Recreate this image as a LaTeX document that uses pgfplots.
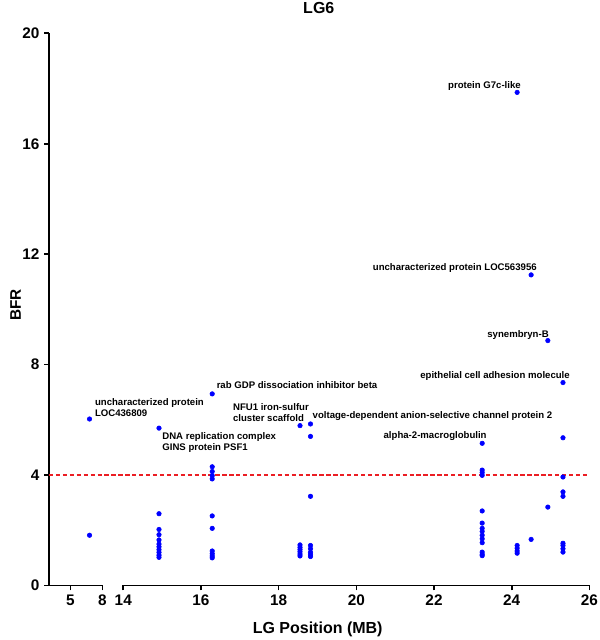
\documentclass[border=0pt]{standalone}
\usepackage{fontspec}
\setmainfont{Liberation Sans}
\usepackage{pgfplots}
\pgfplotsset{compat=1.18}
\definecolor{dotblue}{RGB}{0,0,255}
\definecolor{refred}{RGB}{235,30,36}
\tikzset{ann/.style={font=\bfseries\fontsize{7.2}{8.6}\selectfont, inner sep=0pt, align=left}}
\pgfplotsset{
  brk/.style={
    scale only axis, height=414.15pt, ymin=0, ymax=20,
    axis x line*=bottom,
    axis line style={line width=1.3pt, -},
    every tick/.style={black, line width=1.2pt},
    major tick length=3.6pt,
    tick align=outside,
    ticklabel style={font=\bfseries\fontsize{11.5}{12}\selectfont},
    /pgf/number format/assume math mode=true,
    clip=false,
  },
  pts/.style={only marks, mark=*, mark size=1.7pt, color=dotblue, mark options={draw=dotblue, fill=dotblue}},
}
\begin{document}
\begin{tikzpicture}
\path[use as bounding box] (-36.75pt,-40.875pt) rectangle (413.25pt,439.125pt);
\begin{axis}[brk, at={(0pt,0pt)}, anchor=south west, width=40pt,
  xmin=3, xmax=8, axis y line*=left, xtick={5,8}, ytick={0,4,8,12,16,20}]
\draw[refred, line width=1.1pt, dash pattern=on 3.2pt off 2pt] (axis cs:3,4) -- (axis cs:53.6625,4);
\addplot[pts] coordinates {(6.8,6.03) (6.8,1.82)};
\node[ann, anchor=west] at (axis cs:7.29,6.45) {uncharacterized protein\\LOC436809};
\end{axis}
\begin{axis}[brk, at={(55.7pt,0pt)}, anchor=south west, width=349.6pt,
  xmin=14, xmax=26, axis y line=none, ytick=\empty, xtick={14,16,18,20,22,24,26}]
\addplot[pts] coordinates {
(14.92,5.70) (14.92,2.60) (14.92,2.03) (14.92,1.84) (14.92,1.65) (14.92,1.50) (14.92,1.40) (14.92,1.30) (14.92,1.20) (14.92,1.10) (14.92,1.02)
(16.29,6.94) (16.29,4.30) (16.29,4.13) (16.29,3.98) (16.29,3.86) (16.29,2.52) (16.29,2.07) (16.29,1.25) (16.29,1.15) (16.29,1.07) (16.29,1.00)
(18.55,5.79) (18.55,1.47) (18.55,1.38) (18.55,1.30) (18.55,1.22) (18.55,1.14) (18.55,1.07)
(18.82,5.85) (18.82,5.40) (18.82,3.23) (18.82,1.45) (18.82,1.33) (18.82,1.20) (18.82,1.12) (18.82,1.05)
(23.24,5.15) (23.24,4.18) (23.24,4.09) (23.24,3.99) (23.24,2.70) (23.24,2.26) (23.24,2.07) (23.24,1.96) (23.24,1.82) (23.24,1.69) (23.24,1.55) (23.24,1.21) (23.24,1.13) (23.24,1.08)
(24.14,17.86) (24.14,1.45) (24.14,1.35) (24.14,1.25) (24.14,1.17)
(24.50,11.25) (24.50,1.67)
(24.93,8.87) (24.93,2.84)
(25.32,7.35) (25.32,5.35) (25.32,3.93) (25.32,3.39) (25.32,3.23) (25.32,1.53) (25.32,1.45) (25.32,1.33) (25.32,1.21)
};
\node[ann, anchor=east] at (axis cs:24.24,18.09) {protein G7c-like};
\node[ann, anchor=east] at (axis cs:24.65,11.51) {uncharacterized protein LOC563956};
\node[ann, anchor=east] at (axis cs:24.96,9.07) {synembryn-B};
\node[ann, anchor=east] at (axis cs:25.50,7.59) {epithelial cell adhesion molecule};
\node[ann, anchor=west] at (axis cs:18.87,6.14) {voltage-dependent anion-selective channel protein 2};
\node[ann, anchor=east] at (axis cs:23.36,5.41) {alpha-2-macroglobulin};
\node[ann, anchor=west] at (axis cs:16.40,7.25) {rab GDP dissociation inhibitor beta};
\node[ann, anchor=west] at (axis cs:16.82,6.26) {NFU1 iron-sulfur\\cluster scaffold};
\node[ann, anchor=west] at (axis cs:15.0,5.18) {DNA replication complex\\GINS protein PSF1};
\end{axis}
\node[font=\bfseries\fontsize{12}{14}\selectfont] at (202.35pt,432.9pt) {LG6};
\node[font=\bfseries\fontsize{11.5}{14}\selectfont, rotate=90] at (-25pt,210.4pt) {BFR};
\node[font=\bfseries\fontsize{12}{14}\selectfont] at (201.5pt,-32.6pt) {LG Position (MB)};
\end{tikzpicture}
\end{document}
